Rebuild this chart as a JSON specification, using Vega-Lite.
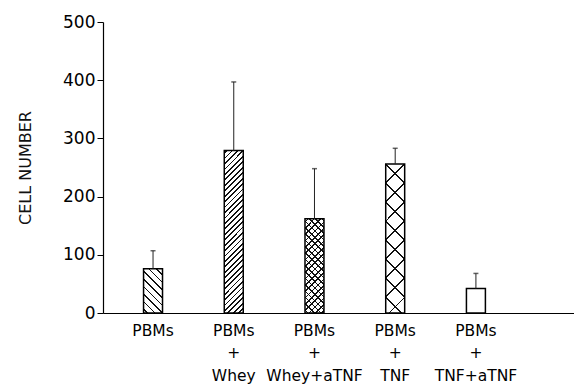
{
  "$schema": "https://vega.github.io/schema/vega-lite/v6.json",
  "width": 471,
  "height": 291,
  "autosize": {"type": "none"},
  "padding": {"left": 103, "top": 22, "right": 0, "bottom": 72},
  "background": "white",
  "config": {
    "view": {"stroke": null},
    "font": "DejaVu Sans",
    "axis": {"domainColor": "black", "tickColor": "black", "labelColor": "black", "titleColor": "#111", "grid": false, "labelFont": "DejaVu Sans", "titleFont": "DejaVu Sans"}
  },
  "data": {
    "values": [
      {"treatment": "PBMs", "cells": 76, "upper": 107},
      {"treatment": "PBMs + Whey", "cells": 279, "upper": 397},
      {"treatment": "PBMs + Whey+aTNF", "cells": 162, "upper": 248},
      {"treatment": "PBMs + TNF", "cells": 256, "upper": 283},
      {"treatment": "PBMs + TNF+aTNF", "cells": 42, "upper": 68}
    ]
  },
  "encoding": {
    "x": {
      "field": "treatment", "type": "nominal", "sort": null,
      "scale": {"paddingInner": 0.765, "paddingOuter": 0.8, "align": 0.314},
      "axis": {
        "title": null, "ticks": false, "labelAngle": 0, "labelFontSize": 15.5,
        "labelLineHeight": 22.5, "labelPadding": 10, "labelDx": 7, "domainWidth": 1.2,
        "labelExpr": "datum.label == 'PBMs' ? 'PBMs' : ['PBMs', '+', substring(datum.label, 7)]"
      }
    },
    "y": {
      "field": "cells", "type": "quantitative",
      "scale": {"domain": [0, 500], "nice": false},
      "axis": {
        "title": "CELL NUMBER", "values": [0, 100, 200, 300, 400, 500],
        "labelFontSize": 17, "labelPadding": 2, "tickSize": 6, "domainWidth": 1.2,
        "titleFontSize": 16, "titleFontWeight": "normal", "titlePadding": 29
      }
    }
  },
  "layer": [
    {"mark": {"type": "bar", "fill": "white"}},
    {
      "transform": [{"filter": "datum.treatment === 'PBMs'"}],
      "mark": {"type": "bar", "fill": {"gradient": "linear", "x1": 0, "y1": 1, "x2": 0.519, "y2": -0.207, "stops": [
        {"offset": 0, "color": "rgba(0,0,0,0)"},
        {"offset": 0.048, "color": "rgba(0,0,0,0)"}, {"offset": 0.048, "color": "#111"}, {"offset": 0.072, "color": "#111"}, {"offset": 0.072, "color": "rgba(0,0,0,0)"},
        {"offset": 0.168, "color": "rgba(0,0,0,0)"}, {"offset": 0.168, "color": "#111"}, {"offset": 0.192, "color": "#111"}, {"offset": 0.192, "color": "rgba(0,0,0,0)"},
        {"offset": 0.288, "color": "rgba(0,0,0,0)"}, {"offset": 0.288, "color": "#111"}, {"offset": 0.312, "color": "#111"}, {"offset": 0.312, "color": "rgba(0,0,0,0)"},
        {"offset": 0.408, "color": "rgba(0,0,0,0)"}, {"offset": 0.408, "color": "#111"}, {"offset": 0.432, "color": "#111"}, {"offset": 0.432, "color": "rgba(0,0,0,0)"},
        {"offset": 0.528, "color": "rgba(0,0,0,0)"}, {"offset": 0.528, "color": "#111"}, {"offset": 0.552, "color": "#111"}, {"offset": 0.552, "color": "rgba(0,0,0,0)"},
        {"offset": 0.648, "color": "rgba(0,0,0,0)"}, {"offset": 0.648, "color": "#111"}, {"offset": 0.672, "color": "#111"}, {"offset": 0.672, "color": "rgba(0,0,0,0)"},
        {"offset": 0.768, "color": "rgba(0,0,0,0)"}, {"offset": 0.768, "color": "#111"}, {"offset": 0.792, "color": "#111"}, {"offset": 0.792, "color": "rgba(0,0,0,0)"},
        {"offset": 0.888, "color": "rgba(0,0,0,0)"}, {"offset": 0.888, "color": "#111"}, {"offset": 0.912, "color": "#111"}, {"offset": 0.912, "color": "rgba(0,0,0,0)"},
        {"offset": 1, "color": "rgba(0,0,0,0)"}
      ]}}
    },
    {
      "transform": [{"filter": "datum.treatment === 'PBMs + Whey'"}],
      "mark": {"type": "bar", "fill": {"gradient": "linear", "x1": 0, "y1": 0, "x2": 0.1291, "y2": 1.102, "stops": [
        {"offset": 0, "color": "rgba(0,0,0,0)"},
        {"offset": 0.010, "color": "rgba(0,0,0,0)"}, {"offset": 0.010, "color": "#111"}, {"offset": 0.020, "color": "#111"}, {"offset": 0.020, "color": "rgba(0,0,0,0)"},
        {"offset": 0.040, "color": "rgba(0,0,0,0)"}, {"offset": 0.040, "color": "#111"}, {"offset": 0.050, "color": "#111"}, {"offset": 0.050, "color": "rgba(0,0,0,0)"},
        {"offset": 0.070, "color": "rgba(0,0,0,0)"}, {"offset": 0.070, "color": "#111"}, {"offset": 0.080, "color": "#111"}, {"offset": 0.080, "color": "rgba(0,0,0,0)"},
        {"offset": 0.100, "color": "rgba(0,0,0,0)"}, {"offset": 0.100, "color": "#111"}, {"offset": 0.110, "color": "#111"}, {"offset": 0.110, "color": "rgba(0,0,0,0)"},
        {"offset": 0.130, "color": "rgba(0,0,0,0)"}, {"offset": 0.130, "color": "#111"}, {"offset": 0.140, "color": "#111"}, {"offset": 0.140, "color": "rgba(0,0,0,0)"},
        {"offset": 0.160, "color": "rgba(0,0,0,0)"}, {"offset": 0.160, "color": "#111"}, {"offset": 0.170, "color": "#111"}, {"offset": 0.170, "color": "rgba(0,0,0,0)"},
        {"offset": 0.190, "color": "rgba(0,0,0,0)"}, {"offset": 0.190, "color": "#111"}, {"offset": 0.200, "color": "#111"}, {"offset": 0.200, "color": "rgba(0,0,0,0)"},
        {"offset": 0.220, "color": "rgba(0,0,0,0)"}, {"offset": 0.220, "color": "#111"}, {"offset": 0.230, "color": "#111"}, {"offset": 0.230, "color": "rgba(0,0,0,0)"},
        {"offset": 0.250, "color": "rgba(0,0,0,0)"}, {"offset": 0.250, "color": "#111"}, {"offset": 0.260, "color": "#111"}, {"offset": 0.260, "color": "rgba(0,0,0,0)"},
        {"offset": 0.280, "color": "rgba(0,0,0,0)"}, {"offset": 0.280, "color": "#111"}, {"offset": 0.290, "color": "#111"}, {"offset": 0.290, "color": "rgba(0,0,0,0)"},
        {"offset": 0.310, "color": "rgba(0,0,0,0)"}, {"offset": 0.310, "color": "#111"}, {"offset": 0.320, "color": "#111"}, {"offset": 0.320, "color": "rgba(0,0,0,0)"},
        {"offset": 0.340, "color": "rgba(0,0,0,0)"}, {"offset": 0.340, "color": "#111"}, {"offset": 0.350, "color": "#111"}, {"offset": 0.350, "color": "rgba(0,0,0,0)"},
        {"offset": 0.370, "color": "rgba(0,0,0,0)"}, {"offset": 0.370, "color": "#111"}, {"offset": 0.380, "color": "#111"}, {"offset": 0.380, "color": "rgba(0,0,0,0)"},
        {"offset": 0.400, "color": "rgba(0,0,0,0)"}, {"offset": 0.400, "color": "#111"}, {"offset": 0.410, "color": "#111"}, {"offset": 0.410, "color": "rgba(0,0,0,0)"},
        {"offset": 0.430, "color": "rgba(0,0,0,0)"}, {"offset": 0.430, "color": "#111"}, {"offset": 0.440, "color": "#111"}, {"offset": 0.440, "color": "rgba(0,0,0,0)"},
        {"offset": 0.460, "color": "rgba(0,0,0,0)"}, {"offset": 0.460, "color": "#111"}, {"offset": 0.470, "color": "#111"}, {"offset": 0.470, "color": "rgba(0,0,0,0)"},
        {"offset": 0.490, "color": "rgba(0,0,0,0)"}, {"offset": 0.490, "color": "#111"}, {"offset": 0.500, "color": "#111"}, {"offset": 0.500, "color": "rgba(0,0,0,0)"},
        {"offset": 0.520, "color": "rgba(0,0,0,0)"}, {"offset": 0.520, "color": "#111"}, {"offset": 0.530, "color": "#111"}, {"offset": 0.530, "color": "rgba(0,0,0,0)"},
        {"offset": 0.550, "color": "rgba(0,0,0,0)"}, {"offset": 0.550, "color": "#111"}, {"offset": 0.560, "color": "#111"}, {"offset": 0.560, "color": "rgba(0,0,0,0)"},
        {"offset": 0.580, "color": "rgba(0,0,0,0)"}, {"offset": 0.580, "color": "#111"}, {"offset": 0.590, "color": "#111"}, {"offset": 0.590, "color": "rgba(0,0,0,0)"},
        {"offset": 0.610, "color": "rgba(0,0,0,0)"}, {"offset": 0.610, "color": "#111"}, {"offset": 0.620, "color": "#111"}, {"offset": 0.620, "color": "rgba(0,0,0,0)"},
        {"offset": 0.640, "color": "rgba(0,0,0,0)"}, {"offset": 0.640, "color": "#111"}, {"offset": 0.650, "color": "#111"}, {"offset": 0.650, "color": "rgba(0,0,0,0)"},
        {"offset": 0.670, "color": "rgba(0,0,0,0)"}, {"offset": 0.670, "color": "#111"}, {"offset": 0.680, "color": "#111"}, {"offset": 0.680, "color": "rgba(0,0,0,0)"},
        {"offset": 0.700, "color": "rgba(0,0,0,0)"}, {"offset": 0.700, "color": "#111"}, {"offset": 0.710, "color": "#111"}, {"offset": 0.710, "color": "rgba(0,0,0,0)"},
        {"offset": 0.730, "color": "rgba(0,0,0,0)"}, {"offset": 0.730, "color": "#111"}, {"offset": 0.740, "color": "#111"}, {"offset": 0.740, "color": "rgba(0,0,0,0)"},
        {"offset": 0.760, "color": "rgba(0,0,0,0)"}, {"offset": 0.760, "color": "#111"}, {"offset": 0.770, "color": "#111"}, {"offset": 0.770, "color": "rgba(0,0,0,0)"},
        {"offset": 0.790, "color": "rgba(0,0,0,0)"}, {"offset": 0.790, "color": "#111"}, {"offset": 0.800, "color": "#111"}, {"offset": 0.800, "color": "rgba(0,0,0,0)"},
        {"offset": 0.820, "color": "rgba(0,0,0,0)"}, {"offset": 0.820, "color": "#111"}, {"offset": 0.830, "color": "#111"}, {"offset": 0.830, "color": "rgba(0,0,0,0)"},
        {"offset": 0.850, "color": "rgba(0,0,0,0)"}, {"offset": 0.850, "color": "#111"}, {"offset": 0.860, "color": "#111"}, {"offset": 0.860, "color": "rgba(0,0,0,0)"},
        {"offset": 0.880, "color": "rgba(0,0,0,0)"}, {"offset": 0.880, "color": "#111"}, {"offset": 0.890, "color": "#111"}, {"offset": 0.890, "color": "rgba(0,0,0,0)"},
        {"offset": 0.910, "color": "rgba(0,0,0,0)"}, {"offset": 0.910, "color": "#111"}, {"offset": 0.920, "color": "#111"}, {"offset": 0.920, "color": "rgba(0,0,0,0)"},
        {"offset": 0.940, "color": "rgba(0,0,0,0)"}, {"offset": 0.940, "color": "#111"}, {"offset": 0.950, "color": "#111"}, {"offset": 0.950, "color": "rgba(0,0,0,0)"},
        {"offset": 0.970, "color": "rgba(0,0,0,0)"}, {"offset": 0.970, "color": "#111"}, {"offset": 0.980, "color": "#111"}, {"offset": 0.980, "color": "rgba(0,0,0,0)"},
        {"offset": 1, "color": "rgba(0,0,0,0)"}
      ]}}
    },
    {
      "transform": [{"filter": "datum.treatment === 'PBMs + Whey+aTNF'"}],
      "mark": {"type": "bar", "fill": {"gradient": "linear", "x1": 0, "y1": 0, "x2": 0.2331, "y2": 1.1548, "stops": [
        {"offset": 0, "color": "rgba(0,0,0,0)"},
        {"offset": 0.021, "color": "rgba(0,0,0,0)"}, {"offset": 0.021, "color": "#111"}, {"offset": 0.035, "color": "#111"}, {"offset": 0.035, "color": "rgba(0,0,0,0)"},
        {"offset": 0.077, "color": "rgba(0,0,0,0)"}, {"offset": 0.077, "color": "#111"}, {"offset": 0.091, "color": "#111"}, {"offset": 0.091, "color": "rgba(0,0,0,0)"},
        {"offset": 0.133, "color": "rgba(0,0,0,0)"}, {"offset": 0.133, "color": "#111"}, {"offset": 0.147, "color": "#111"}, {"offset": 0.147, "color": "rgba(0,0,0,0)"},
        {"offset": 0.189, "color": "rgba(0,0,0,0)"}, {"offset": 0.189, "color": "#111"}, {"offset": 0.203, "color": "#111"}, {"offset": 0.203, "color": "rgba(0,0,0,0)"},
        {"offset": 0.245, "color": "rgba(0,0,0,0)"}, {"offset": 0.245, "color": "#111"}, {"offset": 0.259, "color": "#111"}, {"offset": 0.259, "color": "rgba(0,0,0,0)"},
        {"offset": 0.301, "color": "rgba(0,0,0,0)"}, {"offset": 0.301, "color": "#111"}, {"offset": 0.315, "color": "#111"}, {"offset": 0.315, "color": "rgba(0,0,0,0)"},
        {"offset": 0.357, "color": "rgba(0,0,0,0)"}, {"offset": 0.357, "color": "#111"}, {"offset": 0.371, "color": "#111"}, {"offset": 0.371, "color": "rgba(0,0,0,0)"},
        {"offset": 0.413, "color": "rgba(0,0,0,0)"}, {"offset": 0.413, "color": "#111"}, {"offset": 0.427, "color": "#111"}, {"offset": 0.427, "color": "rgba(0,0,0,0)"},
        {"offset": 0.469, "color": "rgba(0,0,0,0)"}, {"offset": 0.469, "color": "#111"}, {"offset": 0.483, "color": "#111"}, {"offset": 0.483, "color": "rgba(0,0,0,0)"},
        {"offset": 0.525, "color": "rgba(0,0,0,0)"}, {"offset": 0.525, "color": "#111"}, {"offset": 0.539, "color": "#111"}, {"offset": 0.539, "color": "rgba(0,0,0,0)"},
        {"offset": 0.581, "color": "rgba(0,0,0,0)"}, {"offset": 0.581, "color": "#111"}, {"offset": 0.595, "color": "#111"}, {"offset": 0.595, "color": "rgba(0,0,0,0)"},
        {"offset": 0.637, "color": "rgba(0,0,0,0)"}, {"offset": 0.637, "color": "#111"}, {"offset": 0.651, "color": "#111"}, {"offset": 0.651, "color": "rgba(0,0,0,0)"},
        {"offset": 0.693, "color": "rgba(0,0,0,0)"}, {"offset": 0.693, "color": "#111"}, {"offset": 0.707, "color": "#111"}, {"offset": 0.707, "color": "rgba(0,0,0,0)"},
        {"offset": 0.749, "color": "rgba(0,0,0,0)"}, {"offset": 0.749, "color": "#111"}, {"offset": 0.763, "color": "#111"}, {"offset": 0.763, "color": "rgba(0,0,0,0)"},
        {"offset": 0.805, "color": "rgba(0,0,0,0)"}, {"offset": 0.805, "color": "#111"}, {"offset": 0.819, "color": "#111"}, {"offset": 0.819, "color": "rgba(0,0,0,0)"},
        {"offset": 0.861, "color": "rgba(0,0,0,0)"}, {"offset": 0.861, "color": "#111"}, {"offset": 0.875, "color": "#111"}, {"offset": 0.875, "color": "rgba(0,0,0,0)"},
        {"offset": 0.917, "color": "rgba(0,0,0,0)"}, {"offset": 0.917, "color": "#111"}, {"offset": 0.931, "color": "#111"}, {"offset": 0.931, "color": "rgba(0,0,0,0)"},
        {"offset": 0.973, "color": "rgba(0,0,0,0)"}, {"offset": 0.973, "color": "#111"}, {"offset": 0.987, "color": "#111"}, {"offset": 0.987, "color": "rgba(0,0,0,0)"},
        {"offset": 1, "color": "rgba(0,0,0,0)"}
      ]}}
    },
    {
      "transform": [{"filter": "datum.treatment === 'PBMs + Whey+aTNF'"}],
      "mark": {"type": "bar", "fill": {"gradient": "linear", "x1": 0, "y1": 1, "x2": 0.2331, "y2": -0.1548, "stops": [
        {"offset": 0, "color": "rgba(0,0,0,0)"},
        {"offset": 0.021, "color": "rgba(0,0,0,0)"}, {"offset": 0.021, "color": "#111"}, {"offset": 0.035, "color": "#111"}, {"offset": 0.035, "color": "rgba(0,0,0,0)"},
        {"offset": 0.077, "color": "rgba(0,0,0,0)"}, {"offset": 0.077, "color": "#111"}, {"offset": 0.091, "color": "#111"}, {"offset": 0.091, "color": "rgba(0,0,0,0)"},
        {"offset": 0.133, "color": "rgba(0,0,0,0)"}, {"offset": 0.133, "color": "#111"}, {"offset": 0.147, "color": "#111"}, {"offset": 0.147, "color": "rgba(0,0,0,0)"},
        {"offset": 0.189, "color": "rgba(0,0,0,0)"}, {"offset": 0.189, "color": "#111"}, {"offset": 0.203, "color": "#111"}, {"offset": 0.203, "color": "rgba(0,0,0,0)"},
        {"offset": 0.245, "color": "rgba(0,0,0,0)"}, {"offset": 0.245, "color": "#111"}, {"offset": 0.259, "color": "#111"}, {"offset": 0.259, "color": "rgba(0,0,0,0)"},
        {"offset": 0.301, "color": "rgba(0,0,0,0)"}, {"offset": 0.301, "color": "#111"}, {"offset": 0.315, "color": "#111"}, {"offset": 0.315, "color": "rgba(0,0,0,0)"},
        {"offset": 0.357, "color": "rgba(0,0,0,0)"}, {"offset": 0.357, "color": "#111"}, {"offset": 0.371, "color": "#111"}, {"offset": 0.371, "color": "rgba(0,0,0,0)"},
        {"offset": 0.413, "color": "rgba(0,0,0,0)"}, {"offset": 0.413, "color": "#111"}, {"offset": 0.427, "color": "#111"}, {"offset": 0.427, "color": "rgba(0,0,0,0)"},
        {"offset": 0.469, "color": "rgba(0,0,0,0)"}, {"offset": 0.469, "color": "#111"}, {"offset": 0.483, "color": "#111"}, {"offset": 0.483, "color": "rgba(0,0,0,0)"},
        {"offset": 0.525, "color": "rgba(0,0,0,0)"}, {"offset": 0.525, "color": "#111"}, {"offset": 0.539, "color": "#111"}, {"offset": 0.539, "color": "rgba(0,0,0,0)"},
        {"offset": 0.581, "color": "rgba(0,0,0,0)"}, {"offset": 0.581, "color": "#111"}, {"offset": 0.595, "color": "#111"}, {"offset": 0.595, "color": "rgba(0,0,0,0)"},
        {"offset": 0.637, "color": "rgba(0,0,0,0)"}, {"offset": 0.637, "color": "#111"}, {"offset": 0.651, "color": "#111"}, {"offset": 0.651, "color": "rgba(0,0,0,0)"},
        {"offset": 0.693, "color": "rgba(0,0,0,0)"}, {"offset": 0.693, "color": "#111"}, {"offset": 0.707, "color": "#111"}, {"offset": 0.707, "color": "rgba(0,0,0,0)"},
        {"offset": 0.749, "color": "rgba(0,0,0,0)"}, {"offset": 0.749, "color": "#111"}, {"offset": 0.763, "color": "#111"}, {"offset": 0.763, "color": "rgba(0,0,0,0)"},
        {"offset": 0.805, "color": "rgba(0,0,0,0)"}, {"offset": 0.805, "color": "#111"}, {"offset": 0.819, "color": "#111"}, {"offset": 0.819, "color": "rgba(0,0,0,0)"},
        {"offset": 0.861, "color": "rgba(0,0,0,0)"}, {"offset": 0.861, "color": "#111"}, {"offset": 0.875, "color": "#111"}, {"offset": 0.875, "color": "rgba(0,0,0,0)"},
        {"offset": 0.917, "color": "rgba(0,0,0,0)"}, {"offset": 0.917, "color": "#111"}, {"offset": 0.931, "color": "#111"}, {"offset": 0.931, "color": "rgba(0,0,0,0)"},
        {"offset": 0.973, "color": "rgba(0,0,0,0)"}, {"offset": 0.973, "color": "#111"}, {"offset": 0.987, "color": "#111"}, {"offset": 0.987, "color": "rgba(0,0,0,0)"},
        {"offset": 1, "color": "rgba(0,0,0,0)"}
      ]}}
    },
    {
      "transform": [{"filter": "datum.treatment === 'PBMs + TNF'"}],
      "mark": {"type": "bar", "fill": {"gradient": "linear", "x1": 0, "y1": 0, "x2": 0.1417, "y2": 1.1096, "stops": [
        {"offset": 0, "color": "rgba(0,0,0,0)"},
        {"offset": 0.108, "color": "rgba(0,0,0,0)"}, {"offset": 0.108, "color": "#111"}, {"offset": 0.118, "color": "#111"}, {"offset": 0.118, "color": "rgba(0,0,0,0)"},
        {"offset": 0.221, "color": "rgba(0,0,0,0)"}, {"offset": 0.221, "color": "#111"}, {"offset": 0.231, "color": "#111"}, {"offset": 0.231, "color": "rgba(0,0,0,0)"},
        {"offset": 0.335, "color": "rgba(0,0,0,0)"}, {"offset": 0.335, "color": "#111"}, {"offset": 0.345, "color": "#111"}, {"offset": 0.345, "color": "rgba(0,0,0,0)"},
        {"offset": 0.448, "color": "rgba(0,0,0,0)"}, {"offset": 0.448, "color": "#111"}, {"offset": 0.458, "color": "#111"}, {"offset": 0.458, "color": "rgba(0,0,0,0)"},
        {"offset": 0.561, "color": "rgba(0,0,0,0)"}, {"offset": 0.561, "color": "#111"}, {"offset": 0.571, "color": "#111"}, {"offset": 0.571, "color": "rgba(0,0,0,0)"},
        {"offset": 0.674, "color": "rgba(0,0,0,0)"}, {"offset": 0.674, "color": "#111"}, {"offset": 0.684, "color": "#111"}, {"offset": 0.684, "color": "rgba(0,0,0,0)"},
        {"offset": 0.787, "color": "rgba(0,0,0,0)"}, {"offset": 0.787, "color": "#111"}, {"offset": 0.797, "color": "#111"}, {"offset": 0.797, "color": "rgba(0,0,0,0)"},
        {"offset": 0.901, "color": "rgba(0,0,0,0)"}, {"offset": 0.901, "color": "#111"}, {"offset": 0.911, "color": "#111"}, {"offset": 0.911, "color": "rgba(0,0,0,0)"},
        {"offset": 1, "color": "rgba(0,0,0,0)"}
      ]}}
    },
    {
      "transform": [{"filter": "datum.treatment === 'PBMs + TNF'"}],
      "mark": {"type": "bar", "fill": {"gradient": "linear", "x1": 0, "y1": 1, "x2": 0.1417, "y2": -0.1096, "stops": [
        {"offset": 0, "color": "rgba(0,0,0,0)"},
        {"offset": 0.089, "color": "rgba(0,0,0,0)"}, {"offset": 0.089, "color": "#111"}, {"offset": 0.099, "color": "#111"}, {"offset": 0.099, "color": "rgba(0,0,0,0)"},
        {"offset": 0.203, "color": "rgba(0,0,0,0)"}, {"offset": 0.203, "color": "#111"}, {"offset": 0.213, "color": "#111"}, {"offset": 0.213, "color": "rgba(0,0,0,0)"},
        {"offset": 0.316, "color": "rgba(0,0,0,0)"}, {"offset": 0.316, "color": "#111"}, {"offset": 0.326, "color": "#111"}, {"offset": 0.326, "color": "rgba(0,0,0,0)"},
        {"offset": 0.429, "color": "rgba(0,0,0,0)"}, {"offset": 0.429, "color": "#111"}, {"offset": 0.439, "color": "#111"}, {"offset": 0.439, "color": "rgba(0,0,0,0)"},
        {"offset": 0.542, "color": "rgba(0,0,0,0)"}, {"offset": 0.542, "color": "#111"}, {"offset": 0.552, "color": "#111"}, {"offset": 0.552, "color": "rgba(0,0,0,0)"},
        {"offset": 0.655, "color": "rgba(0,0,0,0)"}, {"offset": 0.655, "color": "#111"}, {"offset": 0.665, "color": "#111"}, {"offset": 0.665, "color": "rgba(0,0,0,0)"},
        {"offset": 0.769, "color": "rgba(0,0,0,0)"}, {"offset": 0.769, "color": "#111"}, {"offset": 0.779, "color": "#111"}, {"offset": 0.779, "color": "rgba(0,0,0,0)"},
        {"offset": 0.882, "color": "rgba(0,0,0,0)"}, {"offset": 0.882, "color": "#111"}, {"offset": 0.892, "color": "#111"}, {"offset": 0.892, "color": "rgba(0,0,0,0)"},
        {"offset": 1, "color": "rgba(0,0,0,0)"}
      ]}}
    },
    {"mark": {"type": "bar", "fill": "transparent", "stroke": "black", "strokeWidth": 1.5}},
    {
      "mark": {"type": "rule", "color": "#222", "strokeWidth": 1},
      "encoding": {"y2": {"field": "upper"}}
    },
    {
      "mark": {"type": "tick", "orient": "horizontal", "size": 5, "thickness": 1.5, "color": "#222"},
      "encoding": {"y": {"field": "upper", "type": "quantitative"}}
    }
  ]
}
